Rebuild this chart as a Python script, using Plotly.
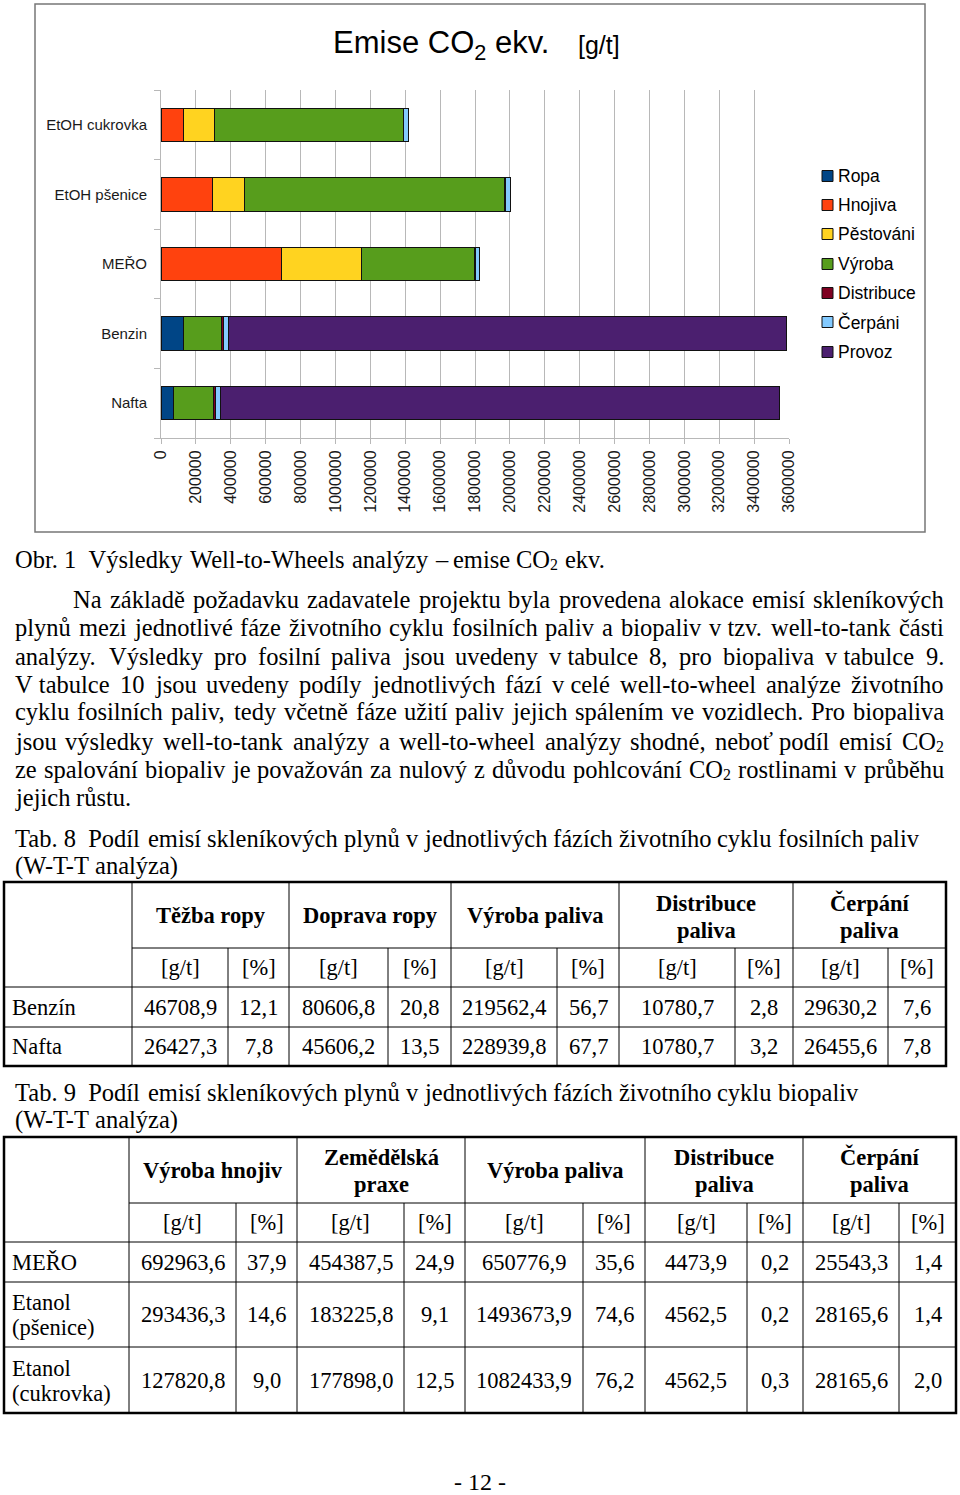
import re
import unicodedata
import plotly.graph_objects as go

W, H = 960, 1495

# ---------------- chart data ----------------
categories = ["Nafta", "Benzin", "MEŘO", "EtOH pšenice", "EtOH cukrovka"]
series_names = ["Ropa", "Hnojiva", "Pěstováni", "Výroba", "Distribuce", "Čerpáni", "Provoz"]
series_colors = ["#004586", "#ff420e", "#ffd320", "#579d1c", "#7e0021", "#83caff", "#4b1f6f"]
ropa = [72034, 127316, 0, 0, 0]
hnojiva = [0, 0, 692964, 293436, 127821]
pestovani = [0, 0, 454388, 183226, 177898]
vyroba = [228940, 219562, 650777, 1493674, 1082434]
distribuce = [10781, 10781, 4474, 4563, 4563]
cerpani = [26456, 29630, 25543, 28166, 28166]
provoz = [3210000, 3200000, 0, 0, 0]
series_values = [ropa, hnojiva, pestovani, vyroba, distribuce, cerpani, provoz]

chart_title = "Emise CO<sub>2</sub> ekv."
chart_unit = "[g/t]"

# ---------------- text data ----------------
caption = "Obr.\u00a01\u00a0\u00a0Výsledky Well-to-Wheels analýzy – emise CO₂ ekv."
paragraph = [
    "Na základě požadavku zadavatele projektu byla provedena alokace emisí skleníkových",
    "plynů mezi jednotlivé fáze životního cyklu fosilních paliv a biopaliv v\u00a0tzv. well-to-tank části",
    "analýzy. Výsledky pro fosilní paliva jsou uvedeny v\u00a0tabulce 8, pro biopaliva v\u00a0tabulce 9.",
    "V\u00a0tabulce 10 jsou uvedeny podíly jednotlivých fází v\u00a0celé well-to-wheel analýze životního",
    "cyklu fosilních paliv, tedy včetně fáze užití paliv jejich spálením ve vozidlech. Pro biopaliva",
    "jsou výsledky well-to-tank analýzy a well-to-wheel analýzy shodné, neboť podíl emisí CO₂",
    "ze spalování biopaliv je považován za nulový z důvodu pohlcování CO₂ rostlinami v průběhu",
    "jejich růstu.",
]
tab8_caption = ["Tab.\u00a08\u00a0\u00a0Podíl emisí skleníkových plynů v jednotlivých fázích životního cyklu fosilních paliv",
                "(W-T-T\u00a0analýza)"]
tab9_caption = ["Tab.\u00a09\u00a0\u00a0Podíl emisí skleníkových plynů v jednotlivých fázích životního cyklu biopaliv",
                "(W-T-T\u00a0analýza)"]
page_number = "- 12 -"

units = ["[g/t]", "[%]"]
t8_headers = ["Těžba ropy", "Doprava ropy", "Výroba paliva", "Distribuce<br>paliva", "Čerpání<br>paliva"]
t8_rows = ["Benzín", "Nafta"]
t8_gt = [[46708.9, 80606.8, 219562.4, 10780.7, 29630.2],
         [26427.3, 45606.2, 228939.8, 10780.7, 26455.6]]
t8_pct = [[12.1, 20.8, 56.7, 2.8, 7.6],
          [7.8, 13.5, 67.7, 3.2, 7.8]]

t9_headers = ["Výroba hnojiv", "Zemědělská<br>praxe", "Výroba paliva", "Distribuce<br>paliva", "Čerpání<br>paliva"]
t9_rows = ["MEŘO", "Etanol<br>(pšenice)", "Etanol<br>(cukrovka)"]
t9_gt = [[692963.6, 454387.5, 650776.9, 4473.9, 25543.3],
         [293436.3, 183225.8, 1493673.9, 4562.5, 28165.6],
         [127820.8, 177898.0, 1082433.9, 4562.5, 28165.6]]
t9_pct = [[37.9, 24.9, 35.6, 0.2, 1.4],
          [14.6, 9.1, 74.6, 0.2, 1.4],
          [9.0, 12.5, 76.2, 0.3, 2.0]]

# ---------------- helpers ----------------
SERIF = "Liberation Serif, Times New Roman, serif"
SANS = "Liberation Sans, Arial, sans-serif"

TW = dict(zip("abcdefghijklmnopqrstuvwxyz",
              [444, 500, 444, 500, 444, 333, 500, 500, 278, 278, 500, 278, 778, 500, 500, 500, 500, 333, 389, 278, 500, 500, 722, 500, 500, 444]))
TW.update(dict(zip("ABCDEFGHIJKLMNOPQRSTUVWXYZ",
                   [722, 667, 667, 722, 611, 556, 722, 722, 333, 389, 722, 611, 889, 722, 722, 556, 722, 667, 556, 611, 722, 722, 944, 722, 722, 611])))
TW.update({" ": 250, "\u00a0": 250, ".": 250, ",": 250, "-": 333, "–": 500, "(": 333, ")": 333,
           "[": 333, "]": 333, "/": 278, "%": 833, ":": 278})
for d in "0123456789":
    TW[d] = 500
SUBF = 0.65


def cw(ch):
    if ch in TW:
        return TW[ch]
    base = unicodedata.normalize("NFD", ch)[0]
    return TW.get(base, 500)


def tw(s, size):
    tot = 0
    for ch in s:
        tot += 500 * SUBF if ch == "₂" else cw(ch)
    return tot / 1000 * size


annotations = []
shapes = []


def px(x):
    return x / W


def py(y):
    return 1 - y / H


def ann(x, y, text, size, family=SERIF, xanchor="left", color="black"):
    annotations.append(dict(x=px(x), y=py(y), xref="paper", yref="paper", text=text,
                            showarrow=False, xanchor=xanchor, yanchor="middle",
                            borderpad=0, borderwidth=0,
                            font=dict(family=family, size=size, color=color)))


def draw_token(tok, x, y, size):
    for part in re.split("(₂)", tok):
        if part == "":
            continue
        if part == "₂":
            ann(x, y + 0.22 * size, "2", size * SUBF)
            x += 500 * SUBF * size / 1000
        else:
            ann(x, y, part, size)
            x += tw(part, size)


def draw_line(line, x0, x1, y, size, justify):
    toks = line.split(" ")
    widths = [tw(t, size) for t in toks]
    if justify and len(toks) > 1:
        gap = (x1 - x0 - sum(widths)) / (len(toks) - 1)
    else:
        gap = 0.25 * size
    x = x0
    for t, w in zip(toks, widths):
        draw_token(t, x, y, size)
        x += w + gap


def hline(x0, x1, y, w=1.0):
    shapes.append(dict(type="line", xref="paper", yref="paper", x0=px(x0), x1=px(x1),
                       y0=py(y), y1=py(y), line=dict(color="black", width=w)))


def vline(x, y0, y1, w=1.0):
    shapes.append(dict(type="line", xref="paper", yref="paper", x0=px(x), x1=px(x),
                       y0=py(y0), y1=py(y1), line=dict(color="black", width=w)))


def fmt(v):
    return f"{v:.1f}".replace(".", ",")


# ---------------- figure / chart ----------------
fig = go.Figure()
for name, vals, color in zip(series_names, series_values, series_colors):
    fig.add_trace(go.Bar(y=categories, x=vals, orientation="h", name=name,
                         marker=dict(color=color, line=dict(color="#111111", width=1)),
                         showlegend=False, hoverinfo="x+name"))

# chart frame
shapes.append(dict(type="rect", xref="paper", yref="paper", x0=px(35), x1=px(925), y0=py(4), y1=py(532),
                   line=dict(color="#777777", width=1.5), fillcolor="rgba(0,0,0,0)", layer="below"))

# title
ann(440.5, 45, chart_title, 31, family=SANS, xanchor="center")
ann(578, 45, chart_unit, 25, family=SANS)

# legend (manual)
leg_y = [176, 205, 234, 264, 293, 322, 352]
for name, color, yy in zip(series_names, series_colors, leg_y):
    shapes.append(dict(type="rect", xref="paper", yref="paper", x0=px(822), x1=px(833),
                       y0=py(yy - 5.5), y1=py(yy + 5.5), fillcolor=color,
                       line=dict(color="#111111", width=1)))
    ann(838, yy, name, 17.5, family=SANS)

# ---------------- text ----------------
TS = 24.5
draw_line(caption, 15, 944, 559, TS, False)
para_y = [599, 627, 656, 684, 712, 741, 769, 797]
for i, (line, yy) in enumerate(zip(paragraph, para_y)):
    x0 = 73 if i == 0 else 15
    draw_line(line, x0, 944, yy, TS, i < len(paragraph) - 1)
for line, yy in zip(tab8_caption, [838, 866]):
    draw_line(line, 15, 944, yy, TS, False)
for line, yy in zip(tab9_caption, [1092, 1120]):
    draw_line(line, 15, 944, yy, TS, False)
ann(480, 1482, page_number, 24, xanchor="center")

# ---------------- tables ----------------
CS = 22.5


def draw_table(cols, rows, headers, row_labels, gt, pct, head_single_y, head_two_y, unit_y, row_label_y, row_y):
    x0, x1 = cols[0], cols[-1]
    y0, y1 = rows[0], rows[-1]
    hline(cols[1], x1, rows[1])
    for r in rows[2:-1]:
        hline(x0, x1, r)
    for k in range(1, len(cols) - 1):
        if k % 2 == 1:
            vline(cols[k], y0, y1)
        else:
            vline(cols[k], rows[1], y1)
    shapes.append(dict(type="rect", xref="paper", yref="paper", x0=px(x0), x1=px(x1),
                       y0=py(y0), y1=py(y1), line=dict(color="black", width=2.5),
                       fillcolor="rgba(0,0,0,0)"))
    for g, h in enumerate(headers):
        cx = (cols[1 + 2 * g] + cols[3 + 2 * g]) / 2
        parts = h.split("<br>")
        if len(parts) == 1:
            ann(cx, head_single_y, "<b>" + parts[0] + "</b>", CS, xanchor="center")
        else:
            for p, yy in zip(parts, head_two_y):
                ann(cx, yy, "<b>" + p + "</b>", CS, xanchor="center")
        for s in range(2):
            ux = (cols[1 + 2 * g + s] + cols[2 + 2 * g + s]) / 2
            ann(ux, unit_y, units[s], CS, xanchor="center")
    for r, lab in enumerate(row_labels):
        parts = lab.split("<br>")
        for p, yy in zip(parts, row_label_y[r]):
            ann(12, yy, p, CS)
        for g in range(len(headers)):
            cx = (cols[1 + 2 * g] + cols[2 + 2 * g]) / 2
            ann(cx, row_y[r], fmt(gt[r][g]), CS, xanchor="center")
            cx = (cols[2 + 2 * g] + cols[3 + 2 * g]) / 2
            ann(cx, row_y[r], fmt(pct[r][g]), CS, xanchor="center")


draw_table([4, 132, 228, 289, 388, 451, 557, 619, 735, 793, 888, 946],
           [882, 948, 987, 1027, 1066],
           t8_headers, t8_rows, t8_gt, t8_pct,
           915, [903, 930], 967.5, [[1007], [1046]], [1007, 1046])

draw_table([4, 129, 236, 297, 404, 465, 583, 645, 747, 803, 899, 956],
           [1137, 1203, 1242, 1282, 1347, 1413],
           t9_headers, t9_rows, t9_gt, t9_pct,
           1170, [1157, 1184], 1222.5, [[1262], [1302, 1327], [1368, 1393]], [1262, 1314.5, 1380])

fig.update_layout(
    template="none",
    width=W, height=H,
    margin=dict(l=0, r=0, t=0, b=0),
    paper_bgcolor="white", plot_bgcolor="white",
    barmode="stack", bargap=0.52,
    showlegend=False,
    annotations=annotations,
    shapes=shapes,
    xaxis=dict(domain=[px(161), px(789)], range=[0, 3600000], tick0=0, dtick=200000,
               tickformat="d", tickangle=-90, showgrid=True, gridcolor="#b8b8b8", gridwidth=1,
               showline=True, linecolor="#b8b8b8", linewidth=1, ticks="outside", ticklen=5,
               tickcolor="#b8b8b8", zeroline=False, automargin=False,
               tickfont=dict(family=SANS, size=16, color="#1a1a1a")),
    yaxis=dict(domain=[py(438), py(90)], type="category", categoryorder="array",
               categoryarray=categories, showline=True, linecolor="#b8b8b8", linewidth=1,
               ticks="outside", tickson="boundaries", ticklen=6, tickcolor="#b8b8b8",
               ticklabelstandoff=10,
               showgrid=False, zeroline=False, automargin=False,
               tickfont=dict(family=SANS, size=15, color="#1a1a1a")),
)

fig.write_html("out.html", config={"displayModeBar": False},
               post_script="document.body.style.margin='0';document.body.style.padding='0';")
